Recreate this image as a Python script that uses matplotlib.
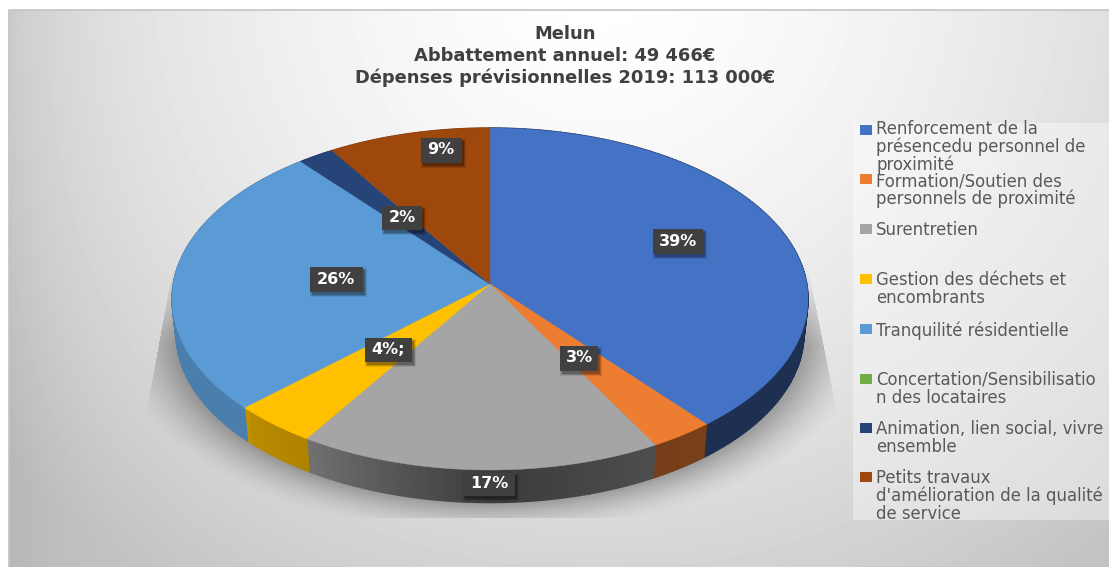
import numpy as np
import matplotlib
matplotlib.use("Agg")
import matplotlib.pyplot as plt
from matplotlib.patches import Polygon, Rectangle

# Budget shares by spending line, clockwise from twelve o'clock
categories = [
    "Renforcement de la\nprésencedu personnel de\nproximité",
    "Formation/Soutien des\npersonnels de proximité",
    "Surentretien",
    "Gestion des déchets et\nencombrants",
    "Tranquilité résidentielle",
    "Concertation/Sensibilisatio\nn des locataires",
    "Animation, lien social, vivre\nensemble",
    "Petits travaux\nd'amélioration de la qualité\nde service",
]
shares = [39, 3, 17, 4, 26, 0, 2, 9]
share_labels = ["39%", "3%", "17%", "4%;", "26%", None, "2%", "9%"]
colors = ["#4472C4", "#ED7D31", "#A5A5A5", "#FFC000",
          "#5B9BD5", "#70AD47", "#264478", "#9E480E"]
title_lines = ["Melun", "Abbattement annuel: 49 466€",
               "Dépenses prévisionnelles 2019: 113 000€"]

# Layout, in pixels of the 1109x567 canvas
W, H = 1109, 567
APEX_X, APEX_Y = 490.0, 284.0
RADIUS_X, RADIUS_Y = 316.8, 169.7
TILT = 0.0876            # strength of the perspective foreshortening
WALL_DROP, WALL_SCALE = 35.0, 0.987
label_centres = [(678, 241), (579, 358), (489, 484), (388, 350),
                 (336, 279), None, (402, 218), (441, 150)]
label_sizes = [(50, 25), (38, 25), (52, 23), (47, 24),
               (53, 25), None, (40, 24), (41, 25)]
legend_swatch_y = [130, 179, 229, 279, 329, 379, 428, 477]
legend_text_top = [120, 172, 221, 271, 321, 371, 420, 469]
legend_spacing = [0.95, 0.98, 0.98, 0.98, 0.98, 0.98, 0.98, 0.98]

TEXT_FONT = ["DejaVu Sans"]


def rim(theta_deg, r=1.0):
    """Project a clockwise-from-top pie angle onto the tilted disc."""
    t = np.radians(theta_deg)
    u, v = r * np.sin(t), r * np.cos(t)
    w = 1 + TILT * v
    return APEX_X + RADIUS_X * u / w, APEX_Y - RADIUS_Y * v / w


def lower_rim(theta_deg):
    x, y = rim(theta_deg)
    return (APEX_X + WALL_SCALE * (x - APEX_X),
            APEX_Y + WALL_SCALE * (y - APEX_Y) + WALL_DROP)


def wall_light(theta_deg):
    """Shading factor of the pie's outer wall around the front."""
    return np.interp(theta_deg,
                     [90, 140, 140.5, 151, 151.5, 180, 212, 226, 227, 320],
                     [.42, .42, .51, .50, .47, .36, .68, .73, .81, .81])


fig = plt.figure(figsize=(W / 100, H / 100), dpi=100, facecolor="white")
ax = fig.add_axes([0, 0, 1, 1])
ax.set_xlim(0, W)
ax.set_ylim(H, 0)
ax.axis("off")

# Panel background: soft radial gradient, brightest near the top centre,
# with a darker band along the left edge
yy, xx = np.mgrid[0:H, 0:W]
dist = np.sqrt(((xx - 600) / 680.0) ** 2 + ((yy + 20) / 640.0) ** 2)
grey = 1.0 - 0.19 * np.clip(dist, 0, 1.15) ** 1.5
grey -= 0.05 * np.exp(-(xx - 9.0).clip(0) / 60.0)
grey = np.clip(grey, 0, 1)
ax.imshow(grey, cmap="gray", vmin=0, vmax=1, extent=(0, W, H, 0),
          aspect="auto", zorder=0, interpolation="bilinear")
ax.add_patch(Rectangle((0, 0), W, 10, fc="white", ec="none", zorder=0.5))
ax.add_patch(Rectangle((0, 0), 9, H, fc="white", ec="none", zorder=0.5))
ax.plot([9, 9, W], [H, 10, 10], color="#c4c4c4", lw=1.2, zorder=0.6)

# Cast shadow: fades away from the disc and up the sides, cut off by a trapezoid
ell = np.sqrt(((xx - APEX_X) / 318.0) ** 2 + ((yy - 332.0) / 170.0) ** 2)
away = np.clip((ell - 1.0) / 0.20, 0, 1)
shadow = 0.30 * (1 - away) ** 1.6 * np.clip((yy - 265) / 80.0, 0, 1)
left_edge = 172 - (yy - 270) * 22 / 120
right_edge = 808 + (yy - 270) * 24 / 120
shadow[(yy > 517) | (xx < left_edge) | (xx > right_edge)] = 0
shadow_rgba = np.zeros((H, W, 4))
shadow_rgba[..., 3] = shadow
ax.imshow(shadow_rgba, extent=(0, W, H, 0), aspect="auto", zorder=1,
          interpolation="bilinear")
ax.set_xlim(0, W)
ax.set_ylim(H, 0)

# Legend backdrop
ax.add_patch(Rectangle((853, 123), W - 853, 397, fc="white", alpha=0.38,
                       ec="none", zorder=1.5))

# Wedges: outer wall first, then the top face over it
edges = np.cumsum([0] + shares) * 3.6
for start, stop, color in zip(edges[:-1], edges[1:], colors):
    if stop <= start:
        continue
    base = np.array(matplotlib.colors.to_rgb(color))
    steps = np.linspace(start, stop, max(2, int(stop - start) + 2))
    for a, b in zip(steps[:-1], steps[1:]):
        wall_color = base * wall_light((a + b) / 2)
        quad = [rim(a), rim(b), lower_rim(b), lower_rim(a)]
        ax.add_patch(Polygon(quad, fc=wall_color, ec=wall_color, lw=1.0, zorder=2))

for start, stop, color in zip(edges[:-1], edges[1:], colors):
    if stop <= start:
        continue
    arc = np.linspace(start, stop, int((stop - start) * 2) + 2)
    xs, ys = rim(arc)
    outline = [(APEX_X, APEX_Y)] + list(zip(xs, ys))
    ax.add_patch(Polygon(outline, fc=color, ec=color, lw=0.3, zorder=3))

# Dark value tags
for text, centre, size in zip(share_labels, label_centres, label_sizes):
    if text is None:
        continue
    cx, cy = centre
    bw, bh = size
    for grow, alpha in ((4, 0.10), (2, 0.16), (0, 0.22)):
        ax.add_patch(Rectangle((cx - bw / 2 + 2 - grow / 2, cy - bh / 2 + 3 - grow / 2),
                               bw + grow, bh + grow, fc="black", alpha=alpha,
                               ec="none", zorder=4))
    ax.add_patch(Rectangle((cx - bw / 2, cy - bh / 2), bw, bh, fc="#404040",
                           ec="none", zorder=5))
    ax.text(cx, cy, text, color="white", fontsize=11.5, fontweight="bold",
            family=TEXT_FONT, ha="center", va="center", zorder=6)

# Title block
for line, y in zip(title_lines, [34, 56, 78]):
    ax.text(565, y, line, color="#404040", fontsize=12.9, fontweight="bold",
            family=TEXT_FONT, ha="center", va="center", zorder=6)

# Legend entries
for name, color, y, top, spacing in zip(categories, colors, legend_swatch_y,
                                        legend_text_top, legend_spacing):
    ax.add_patch(Rectangle((860, y - 5), 12, 10, fc=color, ec="none", zorder=6))
    ax.text(876, top, name, color="#595959", fontsize=11.9,
            family=TEXT_FONT, ha="left", va="top", linespacing=spacing, zorder=6)

fig.savefig("out.png", dpi=100)
